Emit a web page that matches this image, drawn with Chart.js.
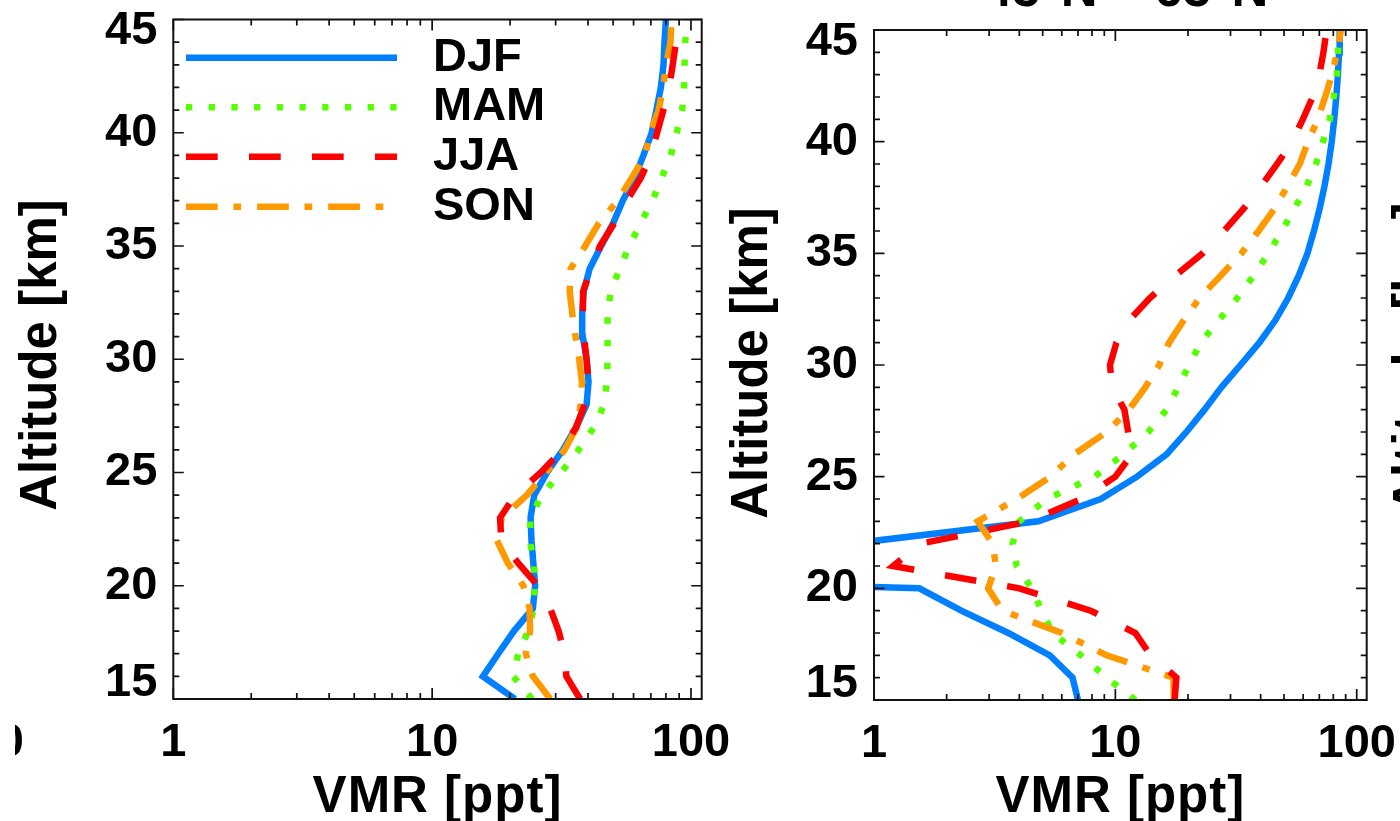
<!DOCTYPE html>
<html><head><meta charset="utf-8">
<script src="https://cdn.jsdelivr.net/npm/chart.js@4.4.1/dist/chart.umd.min.js"></script>
<style>
html,body{margin:0;padding:0;background:#fff;overflow:hidden;}
#wrap{position:relative;width:1400px;height:821px;background:#fff;}
.box{position:absolute;top:0;height:821px;}
#b1{left:0;width:760px;}
#b2{left:712px;width:688px;}
</style></head><body>
<div id="wrap"><div class="box" id="b1"><canvas id="c1"></canvas></div><div class="box" id="b2"><canvas id="c2"></canvas></div></div>
<script>
// ---------- data ----------
const altitudes = [15,16,17,18,19,20,21,22,23,24,25,26,27,28,29,30,31,32,33,34,35,36,37,38,39,40,41,42,43,44,45];
const seasonNames = ['DJF','MAM','JJA','SON'];
const yTickValues = [15,20,25,30,35,40,45];
const xTickValues = [1,10,100];
const xTickLabels = ['1','10','100'];
const xAxisTitle = 'VMR [ppt]';
const yAxisTitle = 'Altitude [km]';
const rightPanelTitle = '45°N – 65°N';

// left panel (VMR in ppt at each altitude)
const leftDJF = [20.9,15.7,18.0,20.7,24.5,25.0,24.6,24.2,24.0,24.8,27.8,32.0,36.0,39.5,40.2,39.5,38.2,38.0,38.5,40.6,45.0,50.0,54.5,60.5,65.5,70.5,73.5,76.5,78.3,79.0,80.0];
const leftMAM = [24.3,20.6,21.5,23.5,24.7,24.9,24.8,23.8,24.0,26.5,31.5,36.8,42.2,46.2,47.3,47.6,47.6,47.6,49.0,53.0,57.8,63.8,71.0,77.0,83.5,88.0,92.5,94.0,94.4,95.0,96.0];
const leftJJA = [37.3,33.0,32.5,30.8,28.6,25.6,21.5,18.5,18.3,20.9,26.3,31.8,36.0,38.8,40.2,39.5,38.6,38.2,38.3,41.2,44.5,50.5,56.5,64.0,70.0,74.0,78.2,82.3,85.0,87.5,89.0];
const leftSON = [28.6,24.5,23.0,23.9,23.8,22.5,19.6,17.8,18.6,23.2,27.5,32.5,36.2,37.5,37.9,37.0,35.8,34.8,34.0,34.3,39.0,44.0,52.0,59.0,66.5,69.5,75.0,78.0,80.0,83.4,84.0];

// right panel (45N-65N)
const rightDJF = [7.0,6.65,5.35,3.6,2.3,1.54,0.001,0.8,4.8,8.7,12.3,16.3,19.7,23.4,27.5,33.0,39.5,46.0,52.0,57.5,62.5,66.5,70.2,73.5,76.4,78.8,80.7,82.3,83.6,84.5,85.0];
const rightMAM = [12.1,9.2,7.2,5.5,4.95,4.5,3.9,3.75,4.0,5.2,8.2,10.8,13.7,16.3,18.2,20.2,22.6,26.8,32.0,37.4,43.0,49.0,55.2,62.0,67.8,72.5,77.3,80.3,82.8,83.6,84.5];
const rightJJA = [17.6,17.9,14.0,12.1,7.9,4.0,1.2,1.56,4.41,7.24,10.0,11.7,11.3,10.9,9.7,9.5,10.1,11.4,13.9,17.7,23.0,28.2,34.0,40.1,46.8,54.0,59.8,65.7,70.0,72.8,75.0];
const rightSON = [17.5,17.4,9.2,6.0,3.4,2.97,3.2,3.1,2.69,3.9,5.38,6.75,9.2,11.4,13.3,15.2,16.7,19.2,22.3,27.3,33.3,39.2,45.7,51.6,58.1,62.8,69.0,74.0,79.0,83.0,86.0];

// ---------- styles ----------
const seasonColors = ['#0080ff','#55ff00','#ff0000','#ff9900'];
const seasonDashes = [[], [6.3,16.4], [31.7,31.3], [31.7,15.7,7.7,16]];
const seasonOrder = [4,3,1,2];
const FONT = '"Liberation Sans", Arial, Helvetica, sans-serif';

function makeDatasets(series) {
  return series.map((vals, k) => ({
    label: seasonNames[k],
    data: altitudes.map((a, i) => ({x: vals[i], y: a})),
    borderColor: seasonColors[k],
    backgroundColor: seasonColors[k],
    borderWidth: 6.5,
    borderDash: seasonDashes[k],
    borderCapStyle: 'butt',
    borderJoinStyle: 'miter',
    pointRadius: 0, pointHoverRadius: 0,
    showLine: true, fill: false, tension: 0,
    clip: 0,
    order: seasonOrder[k]
  }));
}

const idlAxes = {
  id: 'idlAxes',
  afterDatasetsDraw(chart, args, o) {
    const {ctx, chartArea: ca, scales: {x, y}} = chart;
    ctx.save();
    ctx.strokeStyle = '#111';
    ctx.lineCap = 'butt';
    ctx.setLineDash([]);
    ctx.lineWidth = 1.7;
    ctx.beginPath();
    for (let v = Math.ceil(y.min); v <= y.max; v++) {
      const p = y.getPixelForValue(v);
      const len = (v % 5 === 0) ? 10.5 : 6;
      ctx.moveTo(ca.left, p); ctx.lineTo(ca.left + len, p);
      ctx.moveTo(ca.right, p); ctx.lineTo(ca.right - len, p);
    }
    for (let d = 1; d <= 100; d *= 10) {
      for (let m = 1; m <= 9; m++) {
        const v = m * d;
        if (v < x.min || v > x.max) continue;
        const p = x.getPixelForValue(v);
        const len = (m === 1) ? 11 : 6;
        ctx.moveTo(p, ca.bottom); ctx.lineTo(p, ca.bottom - len);
        ctx.moveTo(p, ca.top); ctx.lineTo(p, ca.top + len);
      }
    }
    ctx.stroke();
    ctx.lineWidth = 2;
    ctx.strokeRect(ca.left, ca.top, ca.right - ca.left, ca.bottom - ca.top);
    ctx.restore();
  },
  afterDraw(chart, args, o) {
    const {ctx, chartArea: ca, scales: {x, y}} = chart;
    ctx.save();
    ctx.fillStyle = '#000';
    ctx.font = 'bold 47px ' + FONT;
    ctx.textAlign = 'right';
    ctx.textBaseline = 'middle';
    yTickValues.forEach(v => {
      let p = y.getPixelForValue(v);
      if (v === y.max) p += 12;
      if (v === y.min) p -= 15.5;
      ctx.fillText(String(v), ca.left - 16, p);
    });
    ctx.textAlign = 'center';
    xTickValues.forEach((v, i) => {
      ctx.fillText(xTickLabels[i], x.getPixelForValue(v), ca.bottom + 44);
    });
    ctx.font = 'bold 51px ' + FONT;
    ctx.letterSpacing = '1px';
    ctx.textBaseline = 'alphabetic';
    ctx.fillText(xAxisTitle, (ca.left + ca.right) / 2, 812);
    ctx.letterSpacing = '0px';
    ctx.save();
    ctx.translate(o.yTitleX, o.yTitleY);
    ctx.rotate(-Math.PI / 2);
    ctx.textAlign = 'center';
    ctx.fillText(yAxisTitle, 0, 0);
    ctx.restore();
    (o.extras || []).forEach(e => {
      ctx.save();
      if (e.clipX !== undefined) {
        ctx.beginPath();
        ctx.rect(e.clipX, 0, chart.width, chart.height);
        ctx.clip();
      }
      ctx.font = e.font;
      ctx.textAlign = e.align;
      ctx.textBaseline = e.baseline;
      ctx.translate(e.x, e.y);
      if (e.rot) ctx.rotate(e.rot);
      ctx.fillText(e.text, 0, 0);
      ctx.restore();
    });
    if (o.legend) {
      const ys = [57.7, 107.3, 156.7, 206.7];
      chart.data.datasets.forEach((ds, k) => {
        ctx.save();
        ctx.strokeStyle = ds.borderColor;
        ctx.lineWidth = ds.borderWidth;
        ctx.lineCap = 'butt';
        ctx.setLineDash(ds.borderDash);
        ctx.beginPath();
        ctx.moveTo(186, ys[k]); ctx.lineTo(397, ys[k]);
        ctx.stroke();
        ctx.restore();
        ctx.font = 'bold 47px ' + FONT;
        ctx.textAlign = 'left';
        ctx.textBaseline = 'middle';
        ctx.fillText(ds.label, 433, ys[k]);
      });
    }
    ctx.restore();
  }
};

function makeChart(id, series, pad, pluginOpts) {
  return new Chart(document.getElementById(id), {
    type: 'scatter',
    data: {datasets: makeDatasets(series)},
    options: {
      responsive: true,
      maintainAspectRatio: false,
      devicePixelRatio: 1,
      animation: false,
      events: [],
      layout: {padding: pad},
      scales: {
        x: {type: 'logarithmic', min: 1, max: 110, display: false},
        y: {type: 'linear', min: 15, max: 45, display: false}
      },
      plugins: {legend: {display: false}, tooltip: {enabled: false}, idlAxes: pluginOpts}
    },
    plugins: [idlAxes]
  });
}

makeChart('c1', [leftDJF, leftMAM, leftJJA, leftSON],
  {left: 173.3, top: 19.5, right: 760 - 701.7, bottom: 821 - 699},
  {legend: true, yTitleX: 56, yTitleY: 355,
   extras: [{text: '100', font: 'bold 47px ' + FONT, align: 'right', baseline: 'middle', x: 24, y: 743, clipX: 15}]});

makeChart('c2', [rightDJF, rightMAM, rightJJA, rightSON],
  {left: 874 - 712, top: 30, right: 688 - 654.7, bottom: 821 - 700},
  {legend: false, yTitleX: 55, yTitleY: 363,
   extras: [
     {text: rightPanelTitle, font: 'bold 51px ' + FONT, align: 'center', baseline: 'alphabetic', x: 1126 - 712, y: 6},
     {text: yAxisTitle, font: 'bold 51px ' + FONT, align: 'center', baseline: 'alphabetic', x: 1429 - 712, y: 358, rot: -Math.PI / 2}
   ]});
</script>
</body></html>
